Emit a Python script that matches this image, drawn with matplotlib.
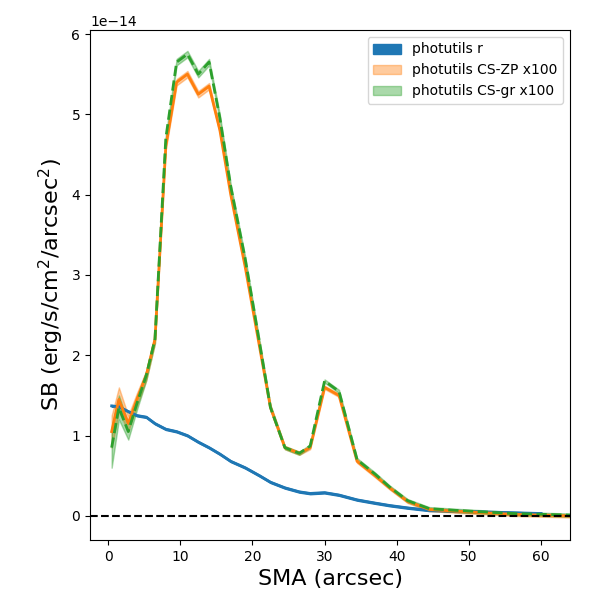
import matplotlib
matplotlib.use("Agg")
import matplotlib.pyplot as plt
import numpy as np

sma = [0.5,1.5,2.8,4,5.3,6.5,8,9.5,11,12.5,14,15.5,17,19,21,22.5,24.5,26.5,28,30,32,34.5,37,39,41.5,44.5,48,52,56,60,64]
r = [1.37,1.36,1.3,1.25,1.23,1.15,1.08,1.05,1.0,0.92,0.85,0.77,0.68,0.6,0.5,0.42,0.35,0.3,0.28,0.29,0.26,0.2,0.16,0.13,0.1,0.07,0.06,0.05,0.04,0.03,0.02]
zp = [1.05,1.45,1.15,1.45,1.75,2.2,4.6,5.4,5.5,5.25,5.35,4.8,4.0,3.1,2.1,1.35,0.85,0.78,0.85,1.6,1.5,0.68,0.5,0.35,0.18,0.08,0.06,0.04,0.02,0.01,0.0]
gr = [0.85,1.35,1.05,1.4,1.75,2.2,4.7,5.65,5.75,5.5,5.65,4.95,4.1,3.2,2.15,1.35,0.85,0.78,0.87,1.68,1.55,0.7,0.52,0.36,0.19,0.09,0.07,0.05,0.03,0.02,0.01]
r_err = [0.01]*len(sma)
zp_err = [0.2,0.15,0.1,0.08,0.06,0.05,0.04,0.04,0.04,0.04,0.04,0.04,0.03,0.03,0.03,0.03,0.02,0.02,0.02,0.02,0.02,0.02,0.02,0.02,0.02,0.02,0.02,0.02,0.02,0.02,0.02]
gr_err = [0.25,0.15,0.1,0.08,0.06,0.05,0.04,0.04,0.04,0.04,0.04,0.04,0.03,0.03,0.03,0.03,0.02,0.02,0.02,0.02,0.02,0.02,0.02,0.02,0.02,0.02,0.02,0.02,0.02,0.02,0.02]

s = 1e-14
x = np.array(sma)
fig, ax = plt.subplots(figsize=(6, 6), dpi=100)
n = 30
for vals, err, col, lab, ls in [(r, r_err, 'C0', 'photutils r', '-'),
                                (zp, zp_err, 'C1', 'photutils CS-ZP x100', '-'),
                                (gr, gr_err, 'C2', 'photutils CS-gr x100', '--')]:
    v = np.array(vals); e = np.array(err)
    xx, vv, ee = (x[:n], v[:n], e[:n]) if col == 'C0' else (x, v, e)
    ax.fill_between(xx, (vv-ee)*s, (vv+ee)*s, color=col, alpha=1.0 if col == 'C0' else 0.4, label=lab)
    ax.plot(xx, vv*s, color=col, ls=ls, lw=2)
ax.axhline(0, color='k', ls='--')
ax.set_xlim(-2.5, 64)
ax.set_ylim(-0.3e-14, 6.05e-14)
ax.set_xlabel('SMA (arcsec)', fontsize=16)
ax.set_ylabel('SB (erg/s/cm$^2$/arcsec$^2$)', fontsize=16)
ax.legend(loc='upper right')
fig.subplots_adjust(left=0.15, right=0.95, bottom=0.1, top=0.95)
fig.savefig('out.png')
